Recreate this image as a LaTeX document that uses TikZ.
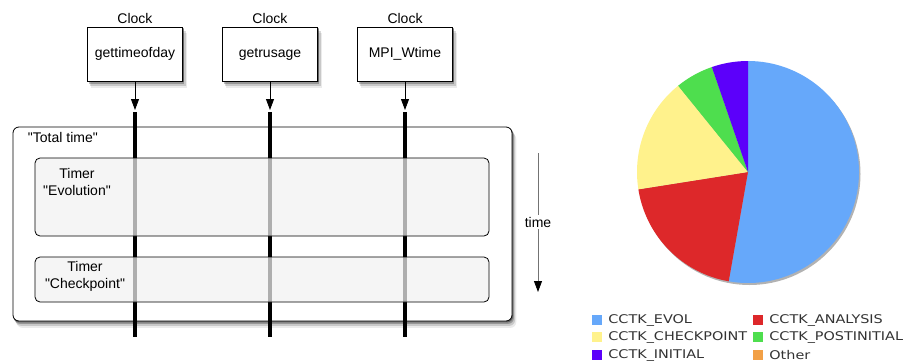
\documentclass[tikz,border=0pt]{standalone}
\usepackage{fontspec}
\setmainfont{Liberation Sans}[Ligatures=TeXOff]
\newfontfamily\legendfont[FakeStretch=1.2]{DejaVu Sans}
\usetikzlibrary{positioning,arrows.meta,backgrounds}

\definecolor{evolblue}{RGB}{102,168,250}
\definecolor{analysisred}{RGB}{221,40,42}
\definecolor{checkyellow}{RGB}{255,242,140}
\definecolor{postgreen}{RGB}{78,222,78}
\definecolor{initpurple}{RGB}{92,0,250}
\definecolor{otherorange}{RGB}{242,160,70}
\definecolor{timerfill}{RGB}{242,242,242}

\tikzset{
  plaintext/.style={inner sep=0.75pt,font=\fontsize{14}{17}\selectfont},
  clockbox/.style={draw,thick,fill=white,minimum width=95pt,minimum height=54pt,
    inner sep=0pt,font=\fontsize{14}{17}\selectfont},
  clocklabel/.style={plaintext},
  totalbox/.style={draw,thick,fill=white,rounded corners=6pt,minimum width=499pt,
    minimum height=194pt,inner sep=0pt},
  timerbox/.style={draw,thick,fill=timerfill,fill opacity=0.72,rounded corners=5pt,
    minimum width=454pt,inner sep=0pt},
  timertext/.style={plaintext,align=center},
  clockarrow/.style={thick,-{Triangle[width=8pt,length=11pt]}},
  clockline/.style={line width=3.5pt},
  shadowfill/.style={fill=black,draw=none},
  legendtext/.style={inner sep=0pt,anchor=west,text=black!80,
    font=\legendfont\fontsize{12}{14}\selectfont},
  legendsq/.style={inner sep=0pt,minimum size=10pt}
}

\begin{document}
\begin{tikzpicture}[x=1pt,y=1pt,yscale=-1,xscale=1]
\useasboundingbox (0,0) rectangle (907,362);

% Clock boxes
\node[clockbox] (gtod) at (135,54) {gettimeofday};
\node[clockbox] (grus) at (270,54) {getrusage};
\node[clockbox] (mpiw) at (405,54) {MPI\_Wtime};
\node[clocklabel, above=2pt of gtod] (gtodclk) {Clock};
\node[clocklabel, above=2pt of grus] (grusclk) {Clock};
\node[clocklabel, above=2pt of mpiw] (mpiwclk) {Clock};

% Total time frame
\node[totalbox] (total) at (262.5,224) {};
\node[plaintext, anchor=west] (totallbl) at (27,137) {"Total time"};

% shadows behind the frames
\begin{pgfonlayer}{background}
\foreach \n/\r in {gtod/0pt, grus/0pt, mpiw/0pt, total/6pt} {
  \foreach \d/\o in {1/0.35, 2.5/0.25, 4.5/0.15, 6.5/0.08}
    \fill[shadowfill, opacity=\o, rounded corners=\r]
      ([shift={(\d*0.6,\d)}]\n.north west) rectangle ([shift={(\d*0.6,\d)}]\n.south east);
}
\end{pgfonlayer}

% clock lines
\foreach \n/\x in {gtod/135, grus/270, mpiw/405} {
  \coordinate (\n tip) at (\x,110);
  \coordinate (\n top) at (\x,112);
  \coordinate (\n end) at (\x,337);
  \draw[clockarrow] (\n) -- (\n tip);
  \draw[clockline] (\n top) -- (\n end);
}

% Timers
\node[timerbox, minimum height=78pt] (evol) at (262,197) {};
\node[timerbox, minimum height=45pt] (chkp) at (262,279.5) {};
\node[timertext] (evollbl) at (77,182) {Timer\\"Evolution"};
\node[timertext] (chkplbl) at (85,276.5) {Timer\\"Checkpoint"};

% time arrow
\coordinate (ttop) at (538,153);
\coordinate (tbot) at (538,292);
\draw[thick, black!55, -{Triangle[width=8pt,length=11pt,color=black]}] (ttop) -- (tbot);
\node[plaintext, fill=white, inner sep=2pt] (timelbl) at (538,222) {time};

% Pie chart
\fill[black!30] (749.5,174) circle (111);
\begin{scope}[shift={(748,172)},yscale=-1]
\foreach \a/\b/\c in {-100/90/evolblue, 189/260/analysisred, 129/189/checkyellow,
    109/129/postgreen, 90/109/initpurple}
  \fill[\c] (0,0) -- (\a:111) arc (\a:\b:111) -- cycle;
\end{scope}

% Legend
\foreach \i/\x/\y/\c/\t in {1/597/320/evolblue/CCTK\_EVOL, 2/758/320/analysisred/CCTK\_ANALYSIS,
    3/597/337/checkyellow/CCTK\_CHECKPOINT, 4/758/337/postgreen/CCTK\_POSTINITIAL,
    5/597/355/initpurple/CCTK\_INITIAL, 6/758/355/otherorange/Other} {
  \node[legendsq, fill=\c] (sq\i) at (\x,\y) {};
  \node[legendtext, right=6pt of sq\i] (lg\i) {\t};
}

\end{tikzpicture}
\end{document}
